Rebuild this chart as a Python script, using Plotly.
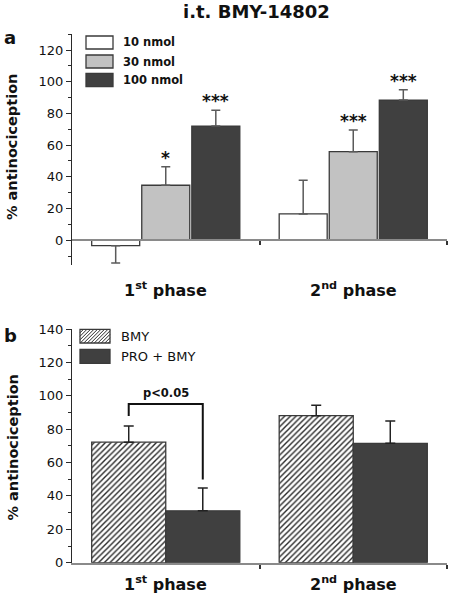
import plotly.graph_objects as go

# ---------------- data ----------------
phases = ["1<sup>st</sup> phase", "2<sup>nd</sup> phase"]
phase_x = [0, 1]

# panel a: i.t. BMY-14802 doses
dose_names = ["10 nmol", "30 nmol", "100 nmol"]
dose_10 = [-3.4, 16.6]
dose_10_err = [11.0, 21.2]
dose_30 = [34.7, 55.9]
dose_30_err = [11.7, 13.6]
dose_100 = [72.0, 88.4]
dose_100_err = [10.0, 6.6]
dose_sig = [["", "*", "***"], ["", "***", "***"]]

# panel b: BMY vs PRO + BMY
grp_names = ["BMY", "PRO + BMY"]
bmy = [72.2, 88.1]
bmy_err = [9.7, 6.2]
pro_bmy = [31.1, 71.5]
pro_bmy_err = [13.7, 13.4]
p_text = "p<0.05"
bracket_left_low = 87.9
bracket_top = 95.0
bracket_right_low = 49.8

# ---------------- styling ----------------
W, H = 450, 596
FONT = "DejaVu Sans"
DARK = "#404040"
LIGHT = "#c2c2c2"
OUTL = "#3a3a3a"
AXGRAY = "#8a8a8a"


def px(x):
    return x / W


def py(y):
    return 1 - y / H


XDOM = [px(72), px(447)]
YDOM_A = [py(265), py(34)]
YDOM_B = [py(562.7), py(329)]
YR_A = [-15.6, 130.1]
YR_B = [0, 140]

fig = go.Figure()

# panel a bars
bw_a = 0.256
offs_a = [-0.395, -0.128, 0.139]
cols_a = ["white", LIGHT, DARK]
vals_a = [dose_10, dose_30, dose_100]
errs_a = [dose_10_err, dose_30_err, dose_100_err]
for i in range(3):
    v = vals_a[i]
    e = errs_a[i]
    plus = [ee if vv >= 0 else 0 for vv, ee in zip(v, e)]
    minus = [ee if vv < 0 else 0 for vv, ee in zip(v, e)]
    fig.add_trace(go.Bar(
        x=phase_x, y=v, name=dose_names[i], width=bw_a, offset=offs_a[i],
        marker=dict(color=cols_a[i], line=dict(color=OUTL, width=1.3)),
        error_y=dict(type="data", symmetric=False, array=plus, arrayminus=minus,
                     color="#5a5a5a", thickness=1.5, width=4.5),
        xaxis="x", yaxis="y", showlegend=False))

# panel b bars
bw_b = 0.395
offs_b = [-0.395, 0.0]
fig.add_trace(go.Bar(
    x=phase_x, y=bmy, name=grp_names[0], width=bw_b, offset=offs_b[0],
    marker=dict(color="white", line=dict(color=OUTL, width=1.3),
                pattern=dict(shape="/", fgcolor="#2a2a2a", bgcolor="white",
                             size=4, solidity=0.35)),
    error_y=dict(type="data", symmetric=False, array=bmy_err, arrayminus=[0, 0],
                 color="#222222", thickness=1.5, width=5),
    xaxis="x2", yaxis="y2", showlegend=False))
fig.add_trace(go.Bar(
    x=phase_x, y=pro_bmy, name=grp_names[1], width=bw_b, offset=offs_b[1],
    marker=dict(color=DARK, line=dict(color=OUTL, width=1.3)),
    error_y=dict(type="data", symmetric=False, array=pro_bmy_err, arrayminus=[0, 0],
                 color="#222222", thickness=1.5, width=5),
    xaxis="x2", yaxis="y2", showlegend=False))

yaxis_common = dict(
    showline=True, linecolor="#2a2a2a", linewidth=1.3, ticks="outside", ticklen=5,
    tickwidth=1.2, tickcolor="#2a2a2a", dtick=20, showgrid=False, zeroline=False,
    automargin=False, tickfont=dict(family=FONT, size=13, color="#111"),
    minor=dict(dtick=10, ticks="outside", ticklen=3, tickcolor="#2a2a2a", tickwidth=1),
)
xaxis_common = dict(
    range=[-0.5, 1.5], showline=True, linecolor=AXGRAY, linewidth=2,
    ticks="outside", ticklen=4, tickwidth=1.5, tickcolor="#333", automargin=False,
    tickvals=[0.5, 1.5], showticklabels=False, showgrid=False, zeroline=False,
)

fig.update_layout(
    template="none",
    width=W, height=H, margin=dict(l=0, r=0, t=0, b=0, pad=0, autoexpand=False),
    paper_bgcolor="white", plot_bgcolor="rgba(0,0,0,0)",
    barmode="overlay", showlegend=False,
    xaxis=dict(domain=XDOM, anchor="free", position=py(240.3), **xaxis_common),
    yaxis=dict(domain=YDOM_A, range=YR_A, anchor="x", **yaxis_common),
    xaxis2=dict(domain=XDOM, anchor="y2", **xaxis_common),
    yaxis2=dict(domain=YDOM_B, range=YR_B, anchor="x2", **yaxis_common),
    font=dict(family=FONT, color="#111"),
)

ann = []


def pa(text, x, y, size, bold=True, angle=0, xanchor="center"):
    return dict(text=("<b>" + text + "</b>") if bold else text, x=px(x), y=py(y),
                xref="paper", yref="paper", xanchor=xanchor, yanchor="middle",
                textangle=angle, showarrow=False,
                font=dict(size=size, family=FONT, color="#111"))


# title and panel letters
ann.append(pa("i.t. BMY-14802", 256, 12, 18))
ann.append(pa("a", 10, 37, 18))
ann.append(pa("b", 10.5, 335, 18))
# y-axis titles
for yc in [147.5, 448]:
    ann.append(pa("% antinociception", 12.5, yc, 14.5, angle=-90))
# x category labels
for yc in [289, 583]:
    for xv, lab in zip(phase_x, phases):
        ann.append(dict(text="<b>" + lab + "</b>", x=xv, y=py(yc), xref="x", yref="paper",
                        xanchor="center", yanchor="middle", showarrow=False,
                        font=dict(size=16, family=FONT, color="#111")))
# significance stars panel a
for i in range(3):
    for j in range(2):
        s = dose_sig[j][i]
        if s:
            top = vals_a[i][j] + errs_a[i][j]
            ann.append(dict(text="<b>" + s + "</b>", x=phase_x[j] + offs_a[i] + bw_a / 2,
                            y=top, xref="x", yref="y", xanchor="center", yanchor="middle",
                            yshift=9, showarrow=False,
                            font=dict(size=17, family=FONT, color="#111")))

# bracket panel b
xl = phase_x[0] + offs_b[0] + bw_b / 2
xr = phase_x[0] + offs_b[1] + bw_b / 2
shapes = [dict(type="path", xref="x2", yref="y2",
               path=f"M{xl},{bracket_left_low} L{xl},{bracket_top} L{xr},{bracket_top} L{xr},{bracket_right_low}",
               line=dict(color="#111", width=2))]
ann.append(dict(text="<b>" + p_text + "</b>", x=(xl + xr) / 2, y=bracket_top, xref="x2", yref="y2",
                xanchor="center", yanchor="bottom", yshift=2, showarrow=False,
                font=dict(size=11.5, family=FONT, color="#111")))

# legend panel a (manual)
leg_a_rows = [(36, 49), (55, 68), (73.3, 86.7)]
for (y0, y1), nm, c in zip(leg_a_rows, dose_names, cols_a):
    shapes.append(dict(type="rect", xref="paper", yref="paper", x0=px(86), x1=px(113),
                       y0=py(y1), y1=py(y0), fillcolor=c, line=dict(color=OUTL, width=1.3)))
    ann.append(pa(nm, 121, (y0 + y1) / 2, 11.5, xanchor="left"))

# legend panel b (manual)
bx0, bx1 = 80, 110
hy0, hy1 = 329.3, 343
segs = []
step = 3.5
k = bx0 + hy0
while k <= bx1 + hy1:
    xa = max(bx0, k - hy1)
    xb = min(bx1, k - hy0)
    if xb > xa:
        segs.append(f"M{px(xa)},{py(k - xa)} L{px(xb)},{py(k - xb)}")
    k += step
shapes.append(dict(type="path", xref="paper", yref="paper", path=" ".join(segs),
                   line=dict(color="#2a2a2a", width=1)))
shapes.append(dict(type="rect", xref="paper", yref="paper", x0=px(bx0), x1=px(bx1),
                   y0=py(hy1), y1=py(hy0), line=dict(color=OUTL, width=1.3)))
shapes.append(dict(type="rect", xref="paper", yref="paper", x0=px(bx0), x1=px(bx1),
                   y0=py(363.3), y1=py(349.3), fillcolor=DARK, line=dict(color=OUTL, width=1.3)))
ann.append(pa(grp_names[0], 119, 336, 13, bold=False, xanchor="left"))
ann.append(pa(grp_names[1], 119, 356.5, 13, bold=False, xanchor="left"))

fig.update_layout(annotations=ann, shapes=shapes)
fig.write_html("out.html", config={"displayModeBar": False},
               post_script="document.body.style.margin='0';document.body.style.overflow='hidden';")
